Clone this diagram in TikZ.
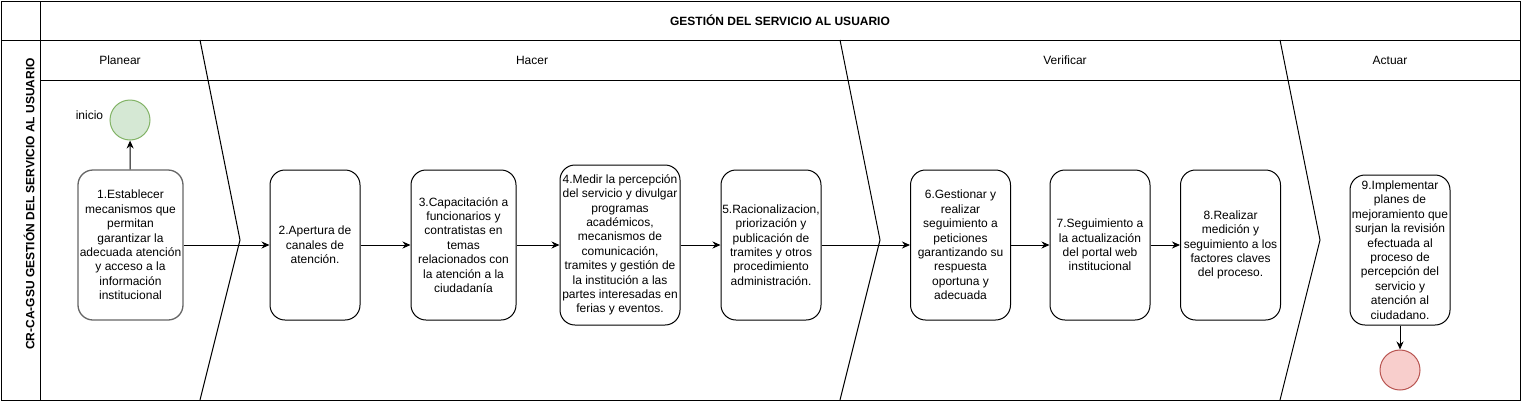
\documentclass[tikz,border=0pt]{standalone}
\usepackage{fontspec}
\setmainfont{Liberation Sans}
\usetikzlibrary{arrows.meta}
\definecolor{startfill}{HTML}{D5E8D4}
\definecolor{startline}{HTML}{82B366}
\definecolor{endfill}{HTML}{F8CECC}
\definecolor{endline}{HTML}{B85450}
\tikzset{
    paso/.style = {draw, rounded corners = 15pt, align = center, inner sep = 0pt, minimum width = 100pt, minimum height = 150pt},
    evento/.style = {circle, draw, inner sep = 0pt, minimum size = 40pt}
}
\begin{document}
\begin{tikzpicture}[x = 1pt, y = -1pt, line width = 1pt, >={Stealth[length = 8pt, width = 7pt]}, font = \fontsize{12}{14.4}\selectfont]
    \useasboundingbox (0,0) rectangle (1522,402);
    \draw (1,1) rectangle (1520,400);
    \draw (1,40) -- (1520,40);
    \draw (40,1) -- (40,400);
    \draw (40,80) -- (1520,80);
    \draw (200,40) -- (240,240) -- (200,400);
    \draw (840,40) -- (880,240) -- (840,400);
    \draw (1280,40) -- (1320,240) -- (1280,400);
    \draw (780,20) node[font = \fontsize{12}{14.4}\selectfont\bfseries] (titulo) {GESTIÓN DEL SERVICIO AL USUARIO};
    \draw (29,204) node[rotate = 90, font = \fontsize{12}{14.4}\selectfont\bfseries] (carril) {CR-CA-GSU GESTIÓN DEL SERVICIO AL USUARIO};
    \draw (120,60) node (planear) {Planear};
    \draw (532,60) node (hacer) {Hacer};
    \draw (1065,60) node (verificar) {Verificar};
    \draw (1390,60) node (actuar) {Actuar};
    \draw (130,120) node[evento, fill = startfill, draw = startline] (inicio) {};
    \draw (107,115) node[anchor = east] (inicioLabel) {inicio};
    \draw (130.5,245) node[paso, minimum width = 105pt, draw = black!60, line width = 1.3pt] (p1) {1.Establecer\\mecanismos que\\permitan\\garantizar la\\adecuada atención\\y acceso a la\\información\\institucional};
    \draw (315,245) node[paso, minimum width = 90pt] (p2) {2.Apertura de\\canales de\\atención.};
    \draw (463.5,245) node[paso, minimum width = 105pt] (p3) {3.Capacitación a\\funcionarios y\\contratistas en\\temas\\relacionados con\\la atención a la\\ciudadanía};
    \draw (620,245) node[paso, minimum width = 120pt, minimum height = 160pt] (p4) {4.Medir la percepción\\del servicio y divulgar\\programas\\académicos,\\mecanismos de\\comunicación,\\tramites y gestión de\\la institución a las\\partes interesadas en\\ferias y eventos.};
    \draw (771,245) node[paso] (p5) {5.Racionalizacion,\\priorización y\\publicación de\\tramites y otros\\procedimiento\\administración.};
    \draw (960.5,245) node[paso] (p6) {6.Gestionar y\\realizar\\seguimiento a\\peticiones\\garantizando su\\respuesta\\oportuna y\\adecuada};
    \draw (1100,245) node[paso] (p7) {7.Seguimiento a\\la actualización\\del portal web\\institucional};
    \draw (1230.5,245) node[paso] (p8) {8.Realizar\\medición y\\seguimiento a los\\factores claves\\del proceso.};
    \draw (1400,250) node[paso] (p9) {9.Implementar\\planes de\\mejoramiento que\\surjan la revisión\\efectuada al\\proceso de\\percepción del\\servicio y\\atención al\\ciudadano.};
    \draw (1400,370) node[evento, fill = endfill, draw = endline] (fin) {};
    \draw[->] (p1) -- (inicio);
    \draw[->] (p1) -- (p2);
    \draw[->] (p2) -- (p3);
    \draw[->] (p3) -- (p4);
    \draw[->] (p4) -- (p5);
    \draw[->] (p5) -- (p6);
    \draw[->] (p6) -- (p7);
    \draw[->] (p7) -- (p8);
    \draw[->] (p9) -- (fin);
\end{tikzpicture}
\end{document}
